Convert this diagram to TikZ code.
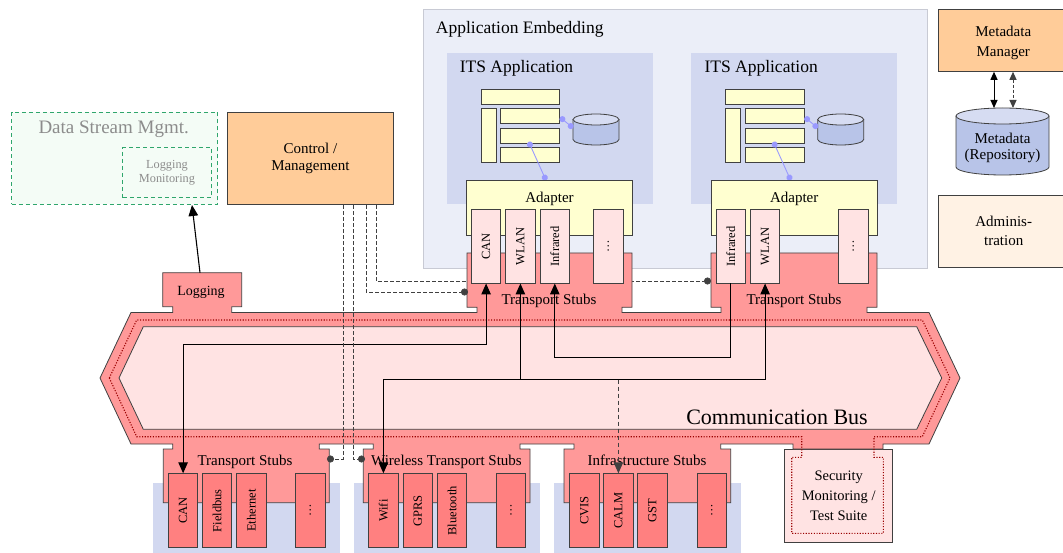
\documentclass[tikz,border=0pt]{standalone}
\usepackage{fontspec}
\setmainfont{Liberation Serif}
\usetikzlibrary{arrows.meta}

\definecolor{salmon}{HTML}{FF9999}
\definecolor{blush}{HTML}{FFE3E3}
\definecolor{portred}{HTML}{FF8080}
\definecolor{paleblue}{HTML}{D2D8F0}
\definecolor{embed}{HTML}{EBEEF8}
\definecolor{embedline}{HTML}{C8CAD4}
\definecolor{cream}{HTML}{FFFFD0}
\definecolor{cylblue}{HTML}{B8C4E8}
\definecolor{cylcap}{HTML}{D6DCF2}
\definecolor{apricot}{HTML}{FFCC99}
\definecolor{peach}{HTML}{FFF2E4}
\definecolor{mint}{HTML}{F4FCF6}
\definecolor{dsgreen}{HTML}{2FA66C}
\definecolor{lilac}{HTML}{9999FF}
\definecolor{darkred}{HTML}{990000}
\definecolor{edge}{HTML}{404040}
\definecolor{textgray}{HTML}{8C8C8C}

\newcommand\fsz[2]{\fontsize{#1}{#2}\selectfont}

\begin{document}
\begin{tikzpicture}[x=1pt,y=-1pt,
  box/.style={draw=edge, line width=0.8pt, inner sep=0pt, anchor=north west, align=center},
  plate/.style={inner sep=0pt, outer sep=0pt, anchor=north west},
  tport/.style={box, fill=blush, minimum width=29.4pt, minimum height=73.4pt, font=\fsz{12.5}{14}},
  bport/.style={tport, fill=portred, minimum height=74pt},
  bar/.style={box, fill=cream, minimum height=15pt},
  tag/.style={anchor=base, inner sep=0pt, font=\fsz{15}{18}},
  route/.style={line width=1.1pt, -{Triangle[length=11pt,width=9.5pt]}},
  duplex/.style={route, {Triangle[length=11pt,width=9.5pt]}-{Triangle[length=11pt,width=9.5pt]}},
  ctl/.style={line width=0.7pt, edge, dash pattern=on 3.5pt off 2.5pt, -{Circle[length=7pt]}},
  link/.style={lilac, line width=0.9pt, {Circle[length=6pt]}-{Circle[length=6pt]}},
  meta/.style={line width=1pt, {Triangle[length=8pt,width=7pt]}-{Triangle[length=8pt,width=7pt]}},
  busdots/.style={darkred, line width=1.1pt, dash pattern=on 1.1pt off 1.6pt},
]
\useasboundingbox (0,0) rectangle (1063,553);

% ---------- side boxes ----------
\node[box, draw=dsgreen, fill=mint, line width=1pt, dash pattern=on 4pt off 3pt,
      minimum width=206pt, minimum height=92.3pt] (dsm) at (11,111.7) {};
\node[anchor=base, inner sep=0pt, text=textgray, font=\fsz{19}{22}] (dsmtitle) at (113.7,133.5) {Data Stream Mgmt.};
\node[box, draw=dsgreen, line width=1pt, dash pattern=on 4pt off 3pt, text=textgray,
      minimum width=88.4pt, minimum height=50pt, font=\fsz{12.3}{14.5}] (logmon) at (122.3,147.3) {Logging\\Monitoring};

\node[box, fill=apricot, minimum width=166.6pt, minimum height=92.6pt, font=\fsz{15}{17}] (ctrl) at (226.7,111.7) {Control /\\Management};

\node[box, fill=apricot, minimum width=130pt, minimum height=62pt] (mm) at (938.3,9) {};
\node[inner sep=0pt, align=center, font=\fsz{15}{20}] (mmlbl) at (1003.3,43) {Metadata\\Manager};
\node[box, fill=peach, minimum width=130pt, minimum height=71.7pt, font=\fsz{15}{19}] (admin) at (938.3,195) {Adminis-\\tration};

% metadata repository cylinder
\fill[cylblue] (956,116) -- (956,167) arc[start angle=180,end angle=0,x radius=46.5,y radius=8]
  -- (1049,116) arc[start angle=0,end angle=-180,x radius=46.5,y radius=8] -- cycle;
\draw[edge, line width=0.8pt] (956,116) -- (956,167) arc[start angle=180,end angle=0,x radius=46.5,y radius=8] -- (1049,116);
\draw[edge, line width=0.8pt, fill=cylcap] (1002.5,116) ellipse[x radius=46.5, y radius=8];
\coordinate (repotop) at (1002.5,108);
\node[inner sep=0pt, align=center, font=\fsz{15}{16.6}] (repo) at (1002.5,148) {Metadata\\(Repository)};

\draw[meta] (mm.south -| 994,0) -- (repotop -| 994,0);
\draw[meta, edge, dash pattern=on 3pt off 2pt] (mm.south -| 1013,0) -- (repotop -| 1013,0);

% ---------- application embedding ----------
\node[box, draw=embedline, fill=embed, line width=1pt, minimum width=504pt, minimum height=259.3pt] (embed) at (422.7,9) {};
\node[anchor=base west, inner sep=0pt, font=\fsz{17.5}{20}] (embedlbl) at (435.7,33.3) {Application Embedding};

\foreach \i/\dx in {1/0,2/244.7}{
  \begin{scope}[xshift=\dx pt]
    \node[plate, fill=paleblue, minimum width=206pt, minimum height=151.6pt] (its\i) at (446.7,52.7) {};
    \node[anchor=base west, inner sep=0pt, font=\fsz{17.5}{20}] (itslbl\i) at (459.6,72.7) {ITS Application};
    \node[bar, minimum width=78.6pt] (bartop\i) at (480.7,89) {};
    \node[bar, minimum width=15pt, minimum height=54pt] (barside\i) at (480.7,108.3) {};
    \node[bar, minimum width=59pt] (bara\i) at (500.3,108.3) {};
    \node[bar, minimum width=59pt] (barb\i) at (500.3,128) {};
    \node[bar, minimum width=59pt] (barc\i) at (500.3,147.3) {};
    % small database
    \fill[cylblue] (573,119.5) -- (573,139.5) arc[start angle=180,end angle=0,x radius=23,y radius=5.5]
      -- (619,119.5) arc[start angle=0,end angle=-180,x radius=23,y radius=5.5] -- cycle;
    \draw[edge, line width=0.8pt] (573,119.5) -- (573,139.5) arc[start angle=180,end angle=0,x radius=23,y radius=5.5] -- (619,119.5);
    \draw[edge, line width=0.8pt, fill=cylcap] (596,119.5) ellipse[x radius=23, y radius=5.5];
    \coordinate (dbside\i) at (573,128);
    \coordinate (adtop\i) at (546,180.3);
    \draw[link] ([yshift=-1pt]bara\i.east) -- (dbside\i);
    \draw[link] ([xshift=-1.5pt,yshift=2pt]barb\i.south) -- (adtop\i);
    \node[box, fill=cream, minimum width=166.3pt, minimum height=54.7pt] (ad\i) at (466,180.3) {};
    \node[tag] (adlbl\i) at (549.5,203) {Adapter};
  \end{scope}
}

% control line that passes behind the upper stubs
\coordinate (rstubL) at (711,281);
\draw[ctl] (ctrl.south -| 376,0) |- (rstubL);

% ---------- lower port backgrounds ----------
\node[plate, fill=paleblue, minimum width=186.7pt, minimum height=75pt] (bgA) at (153.3,482.7) {};
\node[plate, fill=paleblue, minimum width=186pt, minimum height=75pt] (bgB) at (354,482.7) {};
\node[plate, fill=paleblue, minimum width=186.7pt, minimum height=75pt] (bgC) at (554,482.7) {};

% security suite
\node[box, fill=blush, minimum width=108pt, minimum height=93.3pt, font=\fsz{14.5}{20}] (sec) at (784.3,449) {Security\\Monitoring /\\Test Suite};

% ---------- communication bus with its stubs ----------
\draw[edge, line width=0.8pt, fill=salmon]
  (100,378) -- (131,312.5)
  -- (172.7,312.5) -- (172.7,306.7) -- (162.7,306.7) -- (162.7,272.7) -- (241.7,272.7) -- (241.7,306.7) -- (231.7,306.7) -- (231.7,312.5)
  -- (477,312.5) -- (477,307.3) -- (467,307.3) -- (467,253) -- (632,253) -- (632,307.3) -- (622,307.3) -- (622,312.5)
  -- (721,312.5) -- (721,307.3) -- (711,307.3) -- (711,253) -- (877,253) -- (877,307.3) -- (867,307.3) -- (867,312.5)
  -- (929,312.5) -- (960,378) -- (929,444)
  -- (883,444) -- (883,449) -- (793,449) -- (793,444)
  -- (720.7,444) -- (720.7,449) -- (730.7,449) -- (730.7,502.7) -- (564,502.7) -- (564,449) -- (574,449) -- (574,444)
  -- (520,444) -- (520,449) -- (530,449) -- (530,502.7) -- (363.3,502.7) -- (363.3,449) -- (373.3,449) -- (373.3,444)
  -- (319.3,444) -- (319.3,449) -- (329.3,449) -- (329.3,502.7) -- (163.3,502.7) -- (163.3,449) -- (172.7,449) -- (172.7,444)
  -- (131,444) -- cycle;
\draw[edge, line width=0.8pt, fill=blush]
  (119,378) -- (143.3,326.7) -- (916.7,326.7) -- (941.7,378) -- (916.7,429.3) -- (143.3,429.3) -- cycle;
\draw[busdots]
  (109.3,378) -- (136.7,320) -- (922.3,320) -- (950,378) -- (922.3,436.7)
  -- (874,436.7) -- (874,457.3) -- (883.3,457.3) -- (883.3,533.3) -- (791.7,533.3) -- (791.7,457.3) -- (801.7,457.3) -- (801.7,436.7)
  -- (136.7,436.7) -- cycle;

% ---------- ports ----------
\node[tport] (tcan)  at (471,209.3)   {\rotatebox{90}{CAN}};
\node[tport] (twlan) at (505.3,209.3) {\rotatebox{90}{WLAN}};
\node[tport] (tinf)  at (539.7,209.3) {\rotatebox{90}{Infrared}};
\node[tport] (tmore) at (593.3,209.3) {\rotatebox{90}{…}};
\node[tport] (rinf)  at (715.7,209.3) {\rotatebox{90}{Infrared}};
\node[tport] (rwlan) at (750,209.3)   {\rotatebox{90}{WLAN}};
\node[tport] (rmore) at (838.3,209.3) {\rotatebox{90}{…}};

\node[bport] (bcan)   at (168,473.3)   {\rotatebox{90}{CAN}};
\node[bport] (bfield) at (202,473.3)   {\rotatebox{90}{Fieldbus}};
\node[bport] (beth)   at (236.3,473.3) {\rotatebox{90}{Ethernet}};
\node[bport] (bmoreA) at (295.3,473.3) {\rotatebox{90}{…}};
\node[bport] (bwifi)  at (368.3,473.3) {\rotatebox{90}{Wifi}};
\node[bport] (bgprs)  at (402.7,473.3) {\rotatebox{90}{GPRS}};
\node[bport] (bblue)  at (437,473.3)   {\rotatebox{90}{Bluetooth}};
\node[bport] (bmoreB) at (496,473.3)   {\rotatebox{90}{…}};
\node[bport] (bcvis)  at (569.3,473.3) {\rotatebox{90}{CVIS}};
\node[bport] (bcalm)  at (603.3,473.3) {\rotatebox{90}{CALM}};
\node[bport] (bgst)   at (637.3,473.3) {\rotatebox{90}{GST}};
\node[bport] (bmoreC) at (696.7,473.3) {\rotatebox{90}{…}};

% ---------- labels ----------
\node[tag, font=\fsz{14}{16}] (loglbl) at (201,296) {Logging};
\node[tag] (tstubA) at (549,305) {Transport Stubs};
\node[tag] (tstubB) at (794,305) {Transport Stubs};
\node[tag] (bstubA) at (245,465) {Transport Stubs};
\node[tag] (bstubB) at (446.5,465) {Wireless Transport Stubs};
\node[tag] (bstubC) at (647,465) {Infrastructure Stubs};
\node[anchor=base, inner sep=0pt, font=\fsz{22}{26}] (buslbl) at (777,424) {Communication Bus};

% ---------- routes across the bus ----------
\draw[duplex] (bcan.north) -- (bcan.north |- 0,344.3) -| (tcan.south);
\draw[duplex] (bwifi.north) -- (bwifi.north |- 0,379.7) -| (rwlan.south);
\draw[route] (twlan.south |- 0,379.7) -- (twlan.south);
\draw[route] (rinf.south) |- (tinf.south |- 0,357.7) -- (tinf.south);
\draw[route, line width=0.9pt, edge, dash pattern=on 4pt off 3pt] (bcalm.north |- 0,379.7) -- (bcalm.north);

% ---------- control lines ----------
\coordinate (lstubL) at (468,292);
\coordinate (tstubR) at (327,459);
\coordinate (wstubL) at (365,459);
\draw[ctl] (ctrl.south -| 366,0) |- (lstubL);
\draw[ctl] (ctrl.south -| 343,0) |- (tstubR);
\draw[ctl] (ctrl.south -| 353,0) |- (wstubL);

% logging feed
\coordinate (logtab) at (200,272.7);
\draw[route] (logtab) -- (dsm.south -| 192,0);
\end{tikzpicture}
\end{document}
